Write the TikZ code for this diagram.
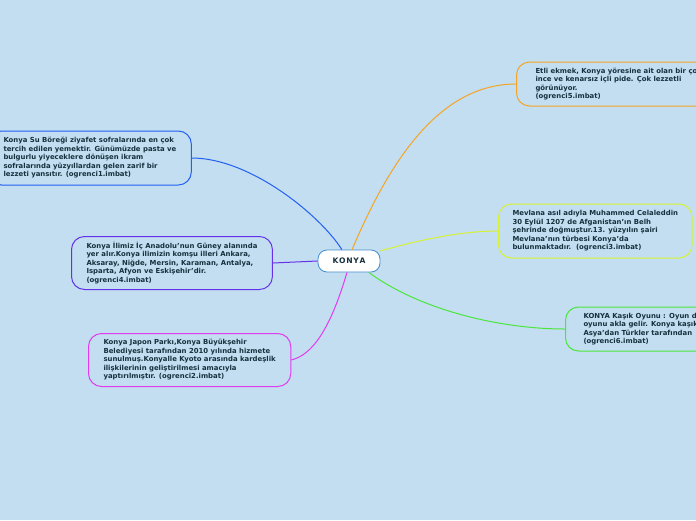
\documentclass[tikz,border=0pt]{standalone}
\usepackage{fontspec}
\setmainfont{DejaVu Sans}
\usepackage{xcolor}
\definecolor{mapbg}{RGB}{194,222,240}
\definecolor{maptext}{RGB}{22,48,62}
\definecolor{mapcenter}{RGB}{70,140,205}
\definecolor{mapblue}{RGB}{35,95,245}
\definecolor{mappurple}{RGB}{100,50,235}
\definecolor{mapmagenta}{RGB}{225,60,240}
\definecolor{maporange}{RGB}{245,165,35}
\definecolor{mapyellow}{RGB}{215,242,50}
\definecolor{mapgreen}{RGB}{75,230,60}
\usetikzlibrary{calc}

\begin{document}
\begin{tikzpicture}[x=1pt, y=-1pt,
  topicbox/.style={draw, line width=1pt, rounded corners=13pt, anchor=west,
    align=left, inner xsep=15pt, inner ysep=3pt, text=maptext,
    font=\bfseries\fontsize{6.9}{8.5}\selectfont},
  link/.style={line width=1pt}]

\fill[mapbg] (0,0) rectangle (696,520);
\useasboundingbox (0,0) rectangle (696,520);
\clip (0,0) rectangle (696,520);

\node[draw=mapcenter, fill=white, line width=0.8pt, rounded corners=9pt,
  minimum width=62pt, minimum height=22pt, text=maptext,
  font=\bfseries\fontsize{7.6}{9}\selectfont] (konya) at (349,261)
  {K\kern0.7pt O\kern0.7pt N\kern0.7pt Y\kern0.7pt A};

% left side
\node[topicbox, draw=mapblue, minimum height=54pt] (ogr1) at (-12,158) {%
  Konya Su Böreği ziyafet sofralarında en çok\\
  tercih edilen yemektir. Günümüzde pasta ve\\
  bulgurlu yiyeceklere dönüşen ikram\\
  sofralarında yüzyıllardan gelen zarif bir\\
  lezzeti yansıtır. (ogrenci1.imbat)};

\node[topicbox, draw=mappurple, minimum height=53pt] (ogr4) at (71,263) {%
  Konya İlimiz İç Anadolu'nun Güney alanında\\
  yer alır.Konya ilimizin komşu illeri Ankara,\\
  Aksaray, Niğde, Mersin, Karaman, Antalya,\\
  Isparta, Afyon ve Eskişehir'dir.\\
  (ogrenci4.imbat)};

\node[topicbox, draw=mapmagenta, minimum height=53pt] (ogr2) at (88,360) {%
  Konya Japon Parkı,Konya Büyükşehir\\
  Belediyesi tarafından 2010 yılında hizmete\\
  sunulmuş.Konyalle Kyoto arasında kardeşlik\\
  ilişkilerinin geliştirilmesi amacıyla\\
  yaptırılmıştır. (ogrenci2.imbat)};

% right side
\node[topicbox, draw=maporange, minimum height=44pt, inner xsep=19pt] (ogr5) at (516,84) {%
  Etli ekmek, Konya yöresine ait olan bir çok\\
  ince ve kenarsız içli pide. Çok lezzetli\\
  görünüyor.\\
  (ogrenci5.imbat)};

\node[topicbox, draw=mapyellow, minimum height=54pt, inner xsep=14pt] (ogr3) at (498,231) {%
  Mevlana asıl adıyla Muhammed Celaleddin\\
  30 Eylül 1207 de Afganistan'ın Belh\\
  şehrinde doğmuştur.13. yüzyılın şairi\\
  Mevlana'nın türbesi Konya'da\\
  bulunmaktadır.~~(ogrenci3.imbat)};

\node[topicbox, draw=mapgreen, minimum height=44pt, inner xsep=18pt] (ogr6) at (565,329) {%
  KONYA Kaşık Oyunu : Oyun d\\
  oyunu akla gelir. Konya kaşık\\
  Asya'dan Türkler tarafından\\
  (ogrenci6.imbat)};

% connectors
\draw[link, mapblue] (konya.122) .. controls (320,215) and (250,158) .. (ogr1.east);
\draw[link, mappurple] (konya.west) -- (ogr4.east);
\draw[link, mapmagenta] (konya.-100) .. controls (330,330) and (312,355) .. (ogr2.east);
\draw[link, maporange] (konya.75) .. controls (390,160) and (440,84) .. (ogr5.west);
\draw[link, mapyellow] (konya.18) .. controls (420,240) and (460,231) .. (ogr3.west);
\draw[link, mapgreen] (konya.-30) .. controls (420,310) and (500,329) .. (ogr6.west);

\end{tikzpicture}
\end{document}
